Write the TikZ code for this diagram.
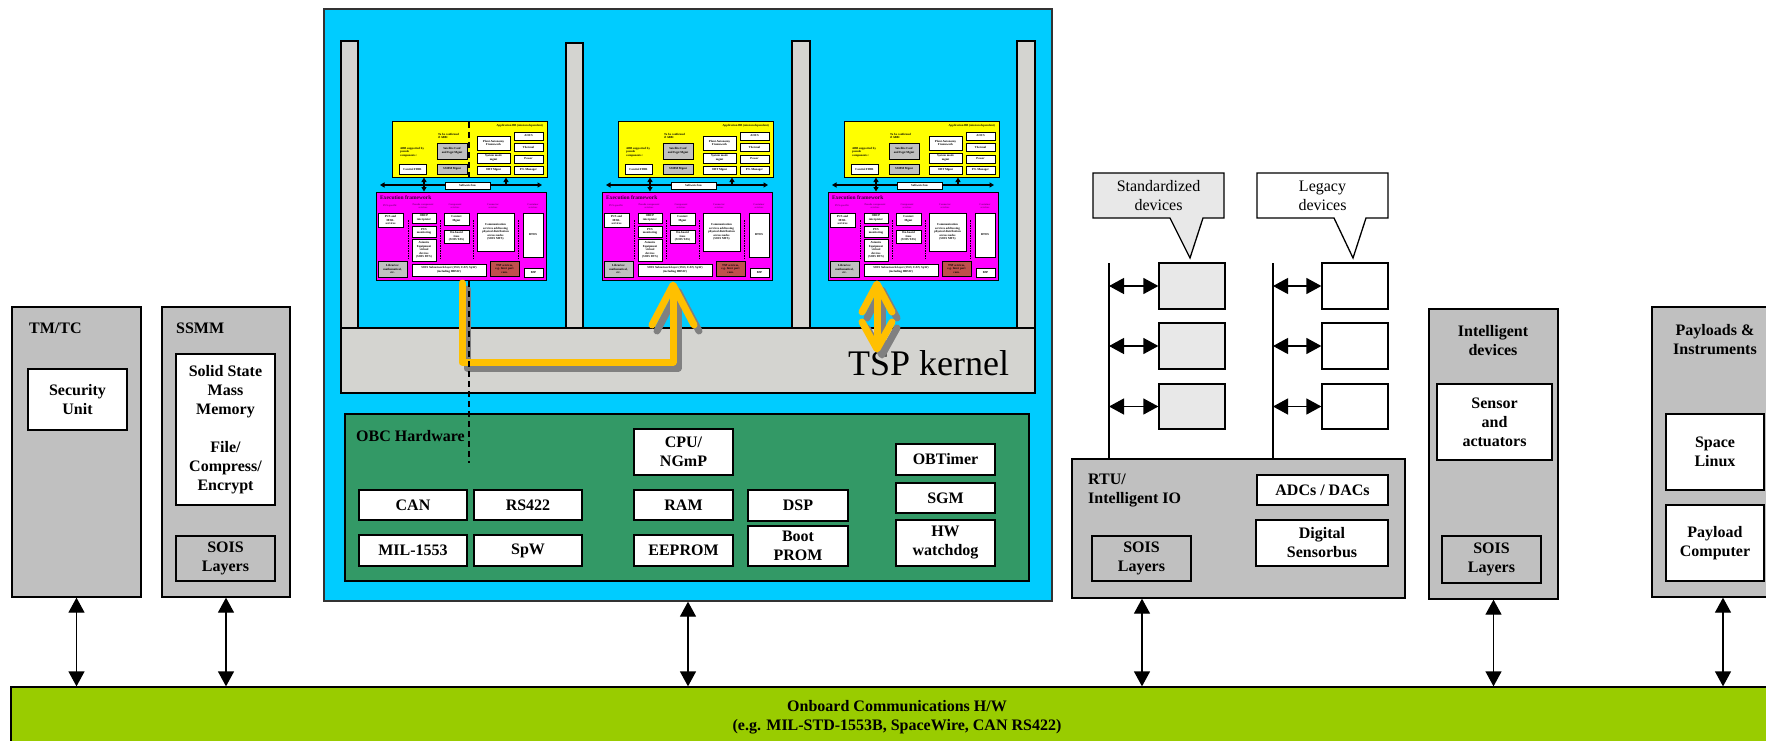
\documentclass[tikz,border=0pt]{standalone}
\usepackage{fontspec}
\setmainfont{Liberation Serif}
\usetikzlibrary{arrows.meta}

\definecolor{cyanbg}{HTML}{00CCFF}
\definecolor{panelgray}{HTML}{C0C0C0}
\definecolor{kernelgray}{HTML}{D4D4D0}
\definecolor{obcgreen}{HTML}{339966}
\definecolor{busgreen}{HTML}{99CC00}
\definecolor{appyellow}{HTML}{FFFF00}
\definecolor{fwmagenta}{HTML}{FF00FF}
\definecolor{tspred}{HTML}{C0504D}
\definecolor{flow}{HTML}{FFC000}
\definecolor{flowshadow}{HTML}{808080}
\definecolor{devgray}{HTML}{E8E8E8}
\definecolor{headpurple}{HTML}{800080}

\newcommand\lbl{\bfseries\fontsize{16}{19}\selectfont}
\newcommand\minifont{\bfseries\fontsize{3}{3.5}\selectfont}

% box from corner (x0,y0) to (x1,y1): name, x0, y0, x1, y1, style, text
\newcommand\bx[7]{%
  \node[#6, minimum width={(#4)-(#2)}, minimum height={(#5)-(#3)}] (#1)
    at ({((#2)+(#4))/2},{((#3)+(#5))/2}) {#7};}

\tikzset{
  base/.style={draw=black, line width=1.3pt, inner sep=0pt, align=center},
  panel/.style={base, fill=panelgray},
  wbox/.style={base, fill=white, font=\lbl},
  sbox/.style={base, fill=panelgray, font=\lbl},
  bluebox/.style={draw=black!80, line width=1.3pt, fill=cyanbg},
  kern/.style={draw=black, line width=1.5pt, fill=kernelgray},
  greenbox/.style={draw=black, line width=1.3pt, fill=obcgreen},
  busbox/.style={base, fill=busgreen, font=\lbl},
  title/.style={font=\lbl, inner sep=0pt, align=center},
  plain/.style={font=\fontsize{16}{19}\selectfont, inner sep=0pt, align=center},
  callout/.style={draw=black, line width=1.3pt},
  devbox/.style={draw=black, line width=1.3pt},
  busarrow/.style={line width=1.3pt, {Triangle[width=16pt,length=15pt]}-{Triangle[width=16pt,length=15pt]}},
  devline/.style={line width=1.5pt},
  % inner software stack
  yelbox/.style={draw=black, line width=1pt, fill=appyellow},
  magbox/.style={draw=black, line width=1pt, fill=fwmagenta},
  mwhite/.style={draw=black, line width=0.8pt, fill=white, inner sep=0pt, align=center, font=\minifont},
  mgray/.style={mwhite, fill=panelgray},
  mred/.style={mwhite, fill=tspred},
  mtext/.style={font=\minifont, inner sep=0pt, align=left},
  mtitle/.style={font=\bfseries\fontsize{5.5}{6}\selectfont, text=black!80!fwmagenta, inner sep=0pt},
  mhead/.style={font=\bfseries\fontsize{2.6}{3}\selectfont, text=headpurple, inner sep=0pt, align=center},
  mbus/.style={line width=1.2pt, {Triangle[width=5pt,length=4.5pt]}-{Triangle[width=5pt,length=4.5pt]}},
  mup/.style={line width=1.2pt, -{Triangle[width=5pt,length=4.5pt]}},
  msep/.style={line width=0.9pt, dash pattern=on 1.5pt off 1pt},
  flowline/.style={draw=flow, line width=7pt, line cap=round, line join=round},
  flowshade/.style={draw=flowshadow, line width=7pt, line cap=round, line join=round},
  obcdash/.style={line width=1.5pt, dash pattern=on 6pt off 4pt},
}

% one application stack: name prefix, horizontal offset, code drawn between the two layers
\newcommand\appstack[3]{%
\begin{scope}[xshift=#2]
  \bx{#1yel}{392}{122}{547}{177}{yelbox}{}
  \node[mtext, anchor=east] (#1app) at (543,126) {Application BB (mission dependent)};
  \node[mtext, anchor=west] (#1tbc) at (438,136) {To be confirmed\\if ABB:};
  \node[mtext, anchor=west] (#1abb) at (400,152) {ABB supported by\\pseudo\\components :};
  \bx{#1sat}{437}{143}{467}{159}{mgray}{Satellite Conf\\and Eqpt Mgmt}
  \bx{#1fdir}{399}{164}{426}{174}{mwhite}{Control FDIR}
  \bx{#1ssmm}{437}{164}{467}{174}{mgray}{SSMM Mgmt}
  \bx{#1paf}{477}{136}{510}{150}{mwhite}{Plant Autonomy\\Framework}
  \bx{#1sys}{477}{153}{510}{163}{mwhite}{System mode\\mgmt}
  \bx{#1obt}{477}{166}{510}{174}{mwhite}{OBT Mgmt}
  \bx{#1aocs}{514}{132}{543}{140}{mwhite}{AOCS}
  \bx{#1ther}{514}{143}{543}{151}{mwhite}{Thermal}
  \bx{#1pow}{514}{155}{543}{163}{mwhite}{Power}
  \bx{#1pl}{514}{166}{543}{174}{mwhite}{P/L Manager}
  #3
  \coordinate (#1bw) at (380,185);
  \coordinate (#1be) at (542,185);
  \coordinate (#1bj) at (506,185);
  \draw[mbus] (#1bw) -- (#1be);
  \draw[mup] (#1bj) -- (#1bj |- #1yel.south);
  \bx{#1sb}{445}{182}{490}{189}{mwhite}{Software bus}
  \bx{#1mag}{376}{192}{546}{280}{magbox}{}
  \draw[mbus] (424,0 |- #1yel.south) -- (424,0 |- #1mag.north);
  \node[mtitle, anchor=west] (#1ef) at (380,198) {Execution framework};
  \node[mhead] (#1h1) at (390,206) {PUS specific};
  \node[mhead] (#1h2) at (423,206) {Pseudo component\\services};
  \node[mhead] (#1h3) at (455,206) {Component\\services};
  \node[mhead] (#1h4) at (493,206) {Connector\\services};
  \node[mhead] (#1h5) at (533,206) {Container\\services};
  \bx{#1pus}{378}{213}{403}{227}{mwhite}{PUS and\\MISL\\services}
  \bx{#1obcp}{412}{213}{436}{223}{mwhite}{OBCP\\interpreter}
  \bx{#1pmon}{412}{226}{436}{237}{mwhite}{PUS\\monitoring}
  \bx{#1dvs}{412}{239}{436}{261}{mwhite}{Avionics\\Equipment\\virtual\\devices\\(SOIS DVS)}
  \bx{#1ctx}{444}{213}{469}{225}{mwhite}{Context\\Mgmt}
  \bx{#1tas}{444}{230}{469}{243}{mwhite}{On-board\\time\\(SOIS TAS)}
  \bx{#1mts}{477}{213}{514}{251}{mwhite}{Communication\\services addressing\\physical distribution\\across nodes\\(SOIS MTS)}
  \bx{#1rtos}{523}{213}{543}{257}{mwhite}{RTOS}
  \bx{#1lib}{378}{261}{407}{277}{mgray}{Libraries:\\mathematical,\\etc.}
  \bx{#1snl}{412}{264}{486}{276}{mwhite}{SOIS Subnetwork layer (1553, CAN, SpW)\\(including HBSW)}
  \bx{#1tsps}{490}{261}{519}{276}{mred}{TSP services,\\e.g. Inter part\\com.}
  \bx{#1bsp}{524}{268}{543}{277}{mwhite}{BSP}
  \foreach \sx in {408,440,473,518} \draw[msep] (\sx,220) -- (\sx,258);
\end{scope}}

\begin{document}
\begin{tikzpicture}[x=1pt,y=-1pt]
\useasboundingbox (0,0) rectangle (1766,741);
\clip (0,0) rectangle (1766,741);
\fill[white] (0,0) rectangle (1766,741);

% ---------- TM/TC and SSMM ----------
\bx{tmtc}{12}{307}{141}{597}{panel}{}
\node[title, anchor=west] (tmtcT) at (29,328) {TM/TC};
\bx{secu}{28}{369}{127}{430}{wbox}{Security\\Unit}

\bx{ssmm}{162}{307}{290}{597}{panel}{}
\node[title, anchor=west] (ssmmT) at (176,328) {SSMM};
\bx{ssmem}{176}{354}{275}{505}{wbox}{Solid State\\Mass\\Memory\\[19pt]File/\\Compress/\\Encrypt}
\bx{ssmmsois}{176}{536}{275}{581}{sbox}{SOIS\\Layers}

% ---------- on-board computer ----------
\bx{obc}{324}{9}{1052}{601}{bluebox}{}
\bx{pil1}{341}{41}{358}{328}{kern}{}
\bx{pil2}{566}{43}{583}{328}{kern}{}
\bx{pil3}{792}{41}{810}{328}{kern}{}
\bx{pil4}{1017}{41}{1035}{328}{kern}{}
\bx{tsp}{341}{328}{1035}{393}{kern}{}
\node[font=\fontsize{36}{40}\selectfont, anchor=base west, inner sep=0pt] (tspT) at (848,375) {TSP kernel};

\coordinate (d1) at (469,122);
\coordinate (d2) at (469,192);
\coordinate (d3) at (469,281);
\coordinate (d4) at (469,463);
\appstack{sa}{0}{\draw[obcdash] (d1) -- (d2);}
\appstack{sb}{226}{}
\appstack{sc}{452}{}

% OBC hardware
\bx{hw}{345}{414}{1029}{581}{greenbox}{}
\node[title, anchor=west] (hwT) at (356,436) {OBC Hardware};
\bx{can}{359}{490}{467}{520}{wbox}{CAN}
\bx{rs}{474}{490}{582}{520}{wbox}{RS422}
\bx{mil}{359}{535}{467}{566}{wbox}{MIL-1553}
\bx{spw}{474}{535}{582}{566}{wbox}{SpW}
\bx{cpu}{634}{429}{733}{475}{wbox}{CPU/\\NGmP}
\bx{ram}{634}{490}{733}{520}{wbox}{RAM}
\bx{eep}{634}{535}{733}{566}{wbox}{EEPROM}
\bx{dsp}{748}{490}{848}{521}{wbox}{DSP}
\bx{boot}{748}{526}{848}{566}{wbox}{Boot\\PROM}
\bx{obt}{896}{444}{995}{475}{wbox}{OBTimer}
\bx{sgm}{896}{483}{995}{513}{wbox}{SGM}
\bx{hwd}{896}{520}{995}{566}{wbox}{HW\\watchdog}

% partition-to-partition flows through the kernel
\begin{scope}[transform canvas={shift={(5,6)}}]
  \draw[flowshade] (462,283) -- (462,362) -- (673,362) -- (673,287);
  \draw[flowshade] (652,325) -- (673,285) -- (694,325);
  \draw[flowshade] (877,287) -- (877,347);
  \draw[flowshade] (862,312) -- (877,284) -- (892,312);
  \draw[flowshade] (862,322) -- (877,349) -- (892,322);
\end{scope}
\coordinate (fa) at (462,283);
\coordinate (fb) at (673,287);
\coordinate (fc) at (877,287);
\coordinate (fd) at (877,347);
\draw[flowline] (fa) -- (462,362) -- (673,362) -- (fb);
\draw[flowline] (652,325) -- (673,285) -- (694,325);
\draw[flowline] (fc) -- (fd);
\draw[flowline] (862,312) -- (877,284) -- (892,312);
\draw[flowline] (862,322) -- (877,349) -- (892,322);

\draw[obcdash] (d3) -- (d4);

% ---------- RTU / intelligent IO ----------
\draw[callout, fill=devgray] (1093,173) -- (1224,173) -- (1224,218) -- (1203,218)
  -- (1190,258) -- (1170,218) -- (1093,218) -- cycle;
\node[plain] (stdT) at (1158.5,195.5) {Standardized\\devices};
\draw[callout, fill=white] (1257,173) -- (1388,173) -- (1388,218) -- (1366,218)
  -- (1353,258) -- (1334,218) -- (1257,218) -- cycle;
\node[plain] (legT) at (1322.5,195.5) {Legacy\\devices};

\bx{sd1}{1159}{263}{1225}{309}{devbox, fill=devgray}{}
\bx{sd2}{1159}{323}{1225}{369}{devbox, fill=devgray}{}
\bx{sd3}{1159}{384}{1225}{429}{devbox, fill=devgray}{}
\bx{ld1}{1322}{263}{1388}{309}{devbox, fill=white}{}
\bx{ld2}{1322}{323}{1388}{369}{devbox, fill=white}{}
\bx{ld3}{1322}{384}{1388}{429}{devbox, fill=white}{}

\bx{rtu}{1072}{459}{1405}{598}{panel}{}
\node[title, anchor=west, align=left] (rtuT) at (1088,490) {RTU/\\Intelligent IO};
\bx{adc}{1257}{475}{1388}{505}{wbox}{ADCs / DACs}
\bx{dsb}{1256}{520}{1388}{566}{wbox}{Digital\\Sensorbus}
\bx{rtusois}{1092}{536}{1191}{581}{sbox}{SOIS\\Layers}

\coordinate (sl) at (1109,263);
\coordinate (ll) at (1273,263);
\draw[devline] (sl) -- (sl |- rtu.north);
\draw[devline] (ll) -- (ll |- rtu.north);
\foreach \d in {1,2,3} {
  \draw[busarrow] (sl |- sd\d.west) -- (sd\d.west);
  \draw[busarrow] (ll |- ld\d.west) -- (ld\d.west);
}

% ---------- intelligent devices ----------
\bx{intel}{1429}{309}{1558}{599}{panel}{}
\node[title] (intelT) at (1493,341) {Intelligent\\devices};
\bx{sens}{1437}{384}{1552}{460}{wbox}{Sensor\\and\\actuators}
\bx{intsois}{1442}{536}{1541}{583}{sbox}{SOIS\\Layers}

% ---------- payloads ----------
\bx{pay}{1652}{307}{1800}{597}{panel}{}
\node[title] (payT) at (1715,340) {Payloads \&\\Instruments};
\bx{linux}{1666}{414}{1764}{490}{wbox}{Space\\Linux}
\bx{pc}{1666}{505}{1764}{581}{wbox}{Payload\\Computer}

% ---------- onboard bus ----------
\bx{bus}{11}{687}{1783}{747}{busbox}{Onboard Communications H/W\\(e.g. MIL-STD-1553B, SpaceWire, CAN RS422)}

\draw[busarrow] (tmtc.south) -- (tmtc.south |- bus.north);
\draw[busarrow] (ssmm.south) -- (ssmm.south |- bus.north);
\draw[busarrow] (obc.south) -- (obc.south |- bus.north);
\draw[busarrow] (1142,0 |- rtu.south) -- (1142,0 |- bus.north);
\draw[busarrow] (intel.south) -- (intel.south |- bus.north);
\draw[busarrow] (1723,0 |- pay.south) -- (1723,0 |- bus.north);
\end{tikzpicture}
\end{document}
